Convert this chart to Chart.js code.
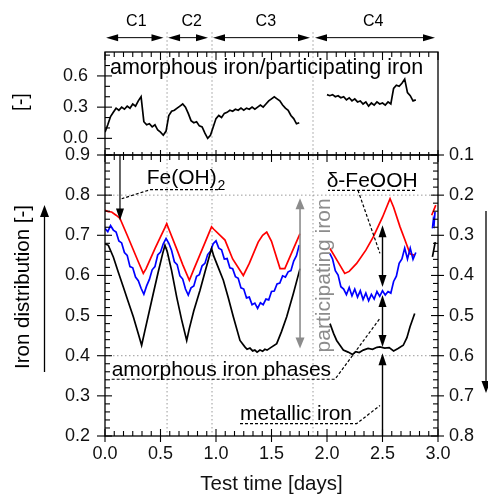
<!DOCTYPE html>
<html><head><meta charset="utf-8">
<script src="https://cdn.jsdelivr.net/npm/chart.js@4.4.1/dist/chart.umd.min.js"></script>
<style>
html,body{margin:0;padding:0;background:#fff;}
#wrap{position:relative;width:488px;height:497px;overflow:hidden;}
canvas{position:absolute;left:0;top:0;}
</style></head><body>
<div id="wrap"><canvas id="main" width="488" height="497"></canvas><canvas id="top" width="488" height="497"></canvas></div>
<script>
// ---------- DATA ----------
const xTicks = [0, 0.5, 1, 1.5, 2, 2.5, 3];
const yTicksLeft = [0.2, 0.3, 0.4, 0.5, 0.6, 0.7, 0.8, 0.9];
const yTicksRight = [0.1, 0.2, 0.3, 0.4, 0.5, 0.6, 0.7, 0.8];
const yTicksTop = [0, 0.3, 0.6];
const refLevels = [0.8, 0.4];
const cycleNames = ['C1', 'C2', 'C3', 'C4'];
const cycleStart = [0.01, 0.568, 0.973, 1.892];
const cycleEnd = [0.527, 0.928, 1.847, 2.973];
const cycleLabelAt = [0.282, 0.781, 1.449, 2.417];
const cycleBounds = [0.559, 0.964, 1.874];

// amorphous iron / participating iron (top panel)
const ratioT = [0,0.025,0.05,0.075,0.1,0.125,0.15,0.175,0.2,0.225,0.25,0.275,0.3,0.325,0.35,0.375,0.4,0.425,0.45,0.475,0.5,0.525,0.55,0.575,0.6,0.625,0.65,0.675,0.7,0.725,0.75,0.775,0.8,0.825,0.85,0.875,0.9,0.925,0.95,0.975,1,1.025,1.05,1.075,1.1,1.125,1.15,1.175,1.2,1.225,1.25,1.275,1.3,1.325,1.35,1.375,1.4,1.425,1.45,1.475,1.5,1.525,1.55,1.575,1.6,1.625,1.65,1.675,1.7,1.725,1.75,
  1.875,
  2,2.025,2.05,2.075,2.1,2.125,2.15,2.175,2.2,2.225,2.25,2.275,2.3,2.325,2.35,2.375,2.4,2.425,2.45,2.475,2.5,2.525,2.55,2.575,2.6,2.625,2.65,2.675,2.7,2.725,2.75,2.775,2.8];
const ratioV = [0.06,0.13,0.21,0.25,0.29,0.27,0.30,0.28,0.31,0.29,0.33,0.31,0.36,0.40,0.16,0.13,0.14,0.11,0.13,0.08,0.06,0.03,0.07,0.22,0.26,0.27,0.29,0.31,0.33,0.30,0.24,0.17,0.15,0.16,0.12,0.11,0.05,0.00,0.03,0.11,0.19,0.22,0.20,0.24,0.25,0.27,0.26,0.28,0.27,0.29,0.27,0.29,0.28,0.30,0.28,0.30,0.32,0.30,0.33,0.36,0.38,0.40,0.38,0.36,0.32,0.29,0.27,0.22,0.19,0.14,0.15,
  null,
  0.42,0.41,0.42,0.40,0.41,0.39,0.40,0.37,0.39,0.36,0.38,0.35,0.36,0.33,0.35,0.31,0.34,0.32,0.35,0.33,0.34,0.32,0.35,0.33,0.48,0.51,0.50,0.53,0.57,0.44,0.41,0.36,0.37];

// red series
const redT = [0,0.03,0.06,0.1,0.135,0.2,0.25,0.3,0.345,0.37,0.45,0.5,0.54,0.556,0.58,0.65,0.7,0.76,0.8,0.85,0.9,0.94,0.96,0.98,1.081,1.15,1.246,1.3,1.38,1.42,1.457,1.5,1.577,1.62,1.7,1.757,
  1.9,
  2.027,2.1,2.16,2.2,2.267,2.35,2.417,2.5,2.568,2.6,2.658,2.7,2.748,2.79,
  2.9,
  2.943,2.98];
const redV = [0.762,0.759,0.758,0.75,0.742,0.700,0.667,0.634,0.605,0.617,0.667,0.696,0.719,0.729,0.712,0.663,0.627,0.588,0.615,0.648,0.681,0.708,0.721,0.715,0.688,0.641,0.600,0.630,0.683,0.700,0.708,0.685,0.617,0.617,0.668,0.704,
  null,
  0.667,0.633,0.605,0.610,0.630,0.663,0.696,0.745,0.791,0.770,0.721,0.690,0.654,0.650,
  null,
  0.750,0.775];

// blue series
const blueT = [0,0.025,0.05,0.075,0.1,0.125,0.15,0.175,0.2,0.225,0.25,0.275,0.3,0.325,0.35,0.375,0.4,0.425,0.45,0.475,0.5,0.525,0.55,0.575,0.6,0.625,0.65,0.675,0.7,0.725,0.75,0.775,0.8,0.825,0.85,0.875,0.9,0.925,0.95,0.975,1,1.025,1.05,1.075,1.1,1.125,1.15,1.175,1.2,1.225,1.25,1.275,1.3,1.325,1.35,1.375,1.4,1.425,1.45,1.475,1.5,1.525,1.55,1.575,1.6,1.625,1.65,1.675,1.7,1.725,1.75,
  1.9,
  2.025,2.05,2.075,2.1,2.125,2.15,2.175,2.2,2.225,2.25,2.275,2.3,2.325,2.35,2.375,2.4,2.425,2.45,2.475,2.5,2.525,2.55,2.575,2.6,2.625,2.65,2.675,2.7,2.725,2.75,2.775,2.8,
  2.9,
  2.95,2.958,2.965,2.973];
const blueV = [0.717,0.709,0.724,0.713,0.708,0.686,0.681,0.657,0.650,0.622,0.619,0.596,0.587,0.568,0.553,0.574,0.590,0.614,0.622,0.651,0.658,0.679,0.692,0.680,0.662,0.634,0.627,0.599,0.591,0.566,0.551,0.569,0.574,0.598,0.602,0.624,0.630,0.652,0.660,0.679,0.686,0.668,0.664,0.641,0.642,0.619,0.617,0.597,0.593,0.569,0.566,0.544,0.546,0.527,0.531,0.518,0.532,0.527,0.541,0.539,0.560,0.561,0.579,0.581,0.599,0.596,0.609,0.612,0.636,0.649,0.676,
  null,
  0.655,0.641,0.612,0.601,0.572,0.566,0.552,0.570,0.549,0.566,0.546,0.562,0.540,0.556,0.537,0.553,0.541,0.560,0.548,0.562,0.551,0.560,0.556,0.585,0.598,0.630,0.641,0.668,0.641,0.668,0.640,0.657,
  null,
  0.717,0.738,0.729,0.758];

// black series
const blackT = [0,0.03,0.075,0.12,0.165,0.21,0.255,0.3,0.33,0.36,0.4,0.435,0.48,0.52,0.54,0.56,0.6,0.646,0.69,0.736,0.76,0.8,0.856,0.9,0.94,0.96,0.98,1.02,1.066,1.11,1.156,1.216,1.26,1.28,1.306,1.33,1.35,1.37,1.396,1.42,1.44,1.46,1.486,1.547,1.59,1.637,1.697,1.757,
  1.9,
  2.027,2.06,2.087,2.12,2.147,2.19,2.23,2.26,2.29,2.327,2.37,2.41,2.45,2.477,2.52,2.56,2.6,2.64,2.687,2.72,2.748,2.79,
  2.9,
  2.95,2.975];
const blackV = [0.679,0.675,0.646,0.608,0.571,0.534,0.497,0.455,0.426,0.463,0.512,0.555,0.609,0.655,0.675,0.660,0.612,0.546,0.490,0.438,0.468,0.512,0.563,0.608,0.648,0.667,0.648,0.620,0.588,0.545,0.497,0.438,0.422,0.416,0.419,0.412,0.414,0.409,0.414,0.411,0.416,0.414,0.419,0.430,0.460,0.497,0.555,0.617,
  null,
  0.480,0.455,0.438,0.425,0.414,0.409,0.403,0.410,0.408,0.414,0.418,0.416,0.421,0.422,0.419,0.420,0.412,0.418,0.426,0.445,0.472,0.505,
  null,
  0.646,0.683];

// ---------- DRAWING ----------
const FONT = "'Liberation Sans', Arial, sans-serif";
Chart.defaults.font.family = FONT;
Chart.defaults.color = '#111';
const pts = (t, v) => t.map((x, i) => ({x: x, y: v[i]}));

function seg(ctx, x1, y1, x2, y2) { ctx.beginPath(); ctx.moveTo(x1, y1); ctx.lineTo(x2, y2); ctx.stroke(); }
function head(ctx, tx, ty, ux, uy, len, hw) {
  ctx.beginPath();
  ctx.moveTo(tx, ty);
  ctx.lineTo(tx - ux * len - uy * hw, ty - uy * len + ux * hw);
  ctx.lineTo(tx - ux * len + uy * hw, ty - uy * len - ux * hw);
  ctx.closePath(); ctx.fill();
}
function vArrow(ctx, x, yFrom, yTo, both, len, hw) {
  const d = yTo > yFrom ? 1 : -1;
  seg(ctx, x, yFrom + (both ? d * len * 0.8 : 0), x, yTo - d * len * 0.8);
  head(ctx, x, yTo, 0, d, len, hw);
  if (both) head(ctx, x, yFrom, 0, -d, len, hw);
}
function hArrow(ctx, y, x1, x2, len, hw) {
  seg(ctx, x1 + len * 0.8, y, x2 - len * 0.8, y);
  head(ctx, x2, y, 1, 0, len, hw);
  head(ctx, x1, y, -1, 0, len, hw);
}
const fmt1 = v => Number(v).toFixed(1);

const mainDecor = {
  id: 'mainDecor',
  beforeDatasetsDraw(chart) {
    const {ctx, chartArea: a, scales: {x, y}} = chart;
    ctx.save();
    ctx.strokeStyle = '#9a9a9a'; ctx.lineWidth = 1; ctx.setLineDash([1.5, 2.5]);
    refLevels.forEach(v => { const py = y.getPixelForValue(v); seg(ctx, a.left, py, a.right, py); });
    cycleBounds.forEach(v => { const px = x.getPixelForValue(v); seg(ctx, px, a.top, px, a.bottom); });
    ctx.restore();
  },
  afterDraw(chart) {
    const {ctx, chartArea: a, scales: {x, y, y2}} = chart;
    const X = v => x.getPixelForValue(v), Y = v => y.getPixelForValue(v);
    ctx.save();
    ctx.strokeStyle = '#000'; ctx.fillStyle = '#000'; ctx.setLineDash([]);
    ctx.lineWidth = 1.3;
    ctx.strokeRect(a.left, a.top, a.right - a.left, a.bottom - a.top);
    ctx.lineWidth = 1.1;
    for (let k = 0; k <= 35; k++) {
      const major = k % 5 === 0;
      const py = y.getPixelForValue(0.2 + k * 0.02);
      seg(ctx, a.left - (major ? 8 : 0), py, a.left + (major ? 7 : 5), py);
      const qy = y2.getPixelForValue(0.1 + k * 0.02);
      seg(ctx, a.right - (major ? 7 : 5), qy, a.right + (major ? 6 : 0), qy);
    }
    for (let k = 0; k <= 36; k++) {
      const major = k % 6 === 0;
      const px = x.getPixelForValue(k / 12);
      seg(ctx, px, a.bottom - (major ? 7 : 5), px, a.bottom + (major ? 6 : 0));
      seg(ctx, px, a.top + (major ? 7 : 5), px, a.top - (major ? 5 : 3));
    }

    // annotations
    ctx.lineWidth = 1.2;
    ctx.textAlign = 'left'; ctx.textBaseline = 'alphabetic';
    // Fe(OH)2
    ctx.font = '21px ' + FONT;
    ctx.fillText('Fe(OH)', X(0.375), Y(0.827));
    const w = ctx.measureText('Fe(OH)').width;
    ctx.font = '14px ' + FONT;
    ctx.fillText('2', X(0.375) + w + 1, Y(0.827) + 6);
    vArrow(ctx, X(0.135), Y(0.9), Y(0.737), false, 12, 4);
    // delta-FeOOH
    ctx.font = '21px ' + FONT;
    ctx.fillText('\u03B4-FeOOH', X(1.997), Y(0.8203));
    // amorphous iron phases / metallic iron
    ctx.fillText('amorphous iron phases', X(0.06), Y(0.3488));
    ctx.fillText('metallic iron', X(1.216), Y(0.2392));
    // dashed leaders
    ctx.setLineDash([3, 2]);
    ctx.beginPath();
    ctx.moveTo(X(1.018), Y(0.8135)); ctx.lineTo(X(0.405), Y(0.8135)); ctx.lineTo(X(0.15), Y(0.791));
    ctx.moveTo(X(2.793), Y(0.812)); ctx.lineTo(X(2.009), Y(0.812));
    ctx.moveTo(X(2.279), Y(0.812)); ctx.lineTo(X(2.477), Y(0.655));
    ctx.moveTo(X(0.06), Y(0.3414)); ctx.lineTo(X(2.072), Y(0.3414)); ctx.lineTo(X(2.477), Y(0.493));
    ctx.moveTo(X(1.216), Y(0.231)); ctx.lineTo(X(2.268), Y(0.231)); ctx.lineTo(X(2.477), Y(0.276));
    ctx.stroke();
    ctx.setLineDash([]);
    // black arrows at 2.5 days
    ctx.lineWidth = 1.4;
    vArrow(ctx, X(2.5), Y(0.725), Y(0.571), true, 12, 4);
    vArrow(ctx, X(2.5), Y(0.551), Y(0.422), true, 12, 4);
    vArrow(ctx, X(2.5), Y(0.2), Y(0.406), false, 12, 4);
    // participating iron (gray)
    ctx.strokeStyle = '#8c8c8c'; ctx.fillStyle = '#8c8c8c'; ctx.lineWidth = 1.6;
    vArrow(ctx, X(1.757), Y(0.792), Y(0.418), true, 11, 4.5);
    ctx.save();
    ctx.translate(X(1.964) + 1, Y(0.60));
    ctx.rotate(-Math.PI / 2);
    ctx.font = '21px ' + FONT; ctx.textAlign = 'center'; ctx.textBaseline = 'middle';
    ctx.fillText('participating iron', 0, 0);
    ctx.restore();

    // left axis title and direction arrows
    ctx.strokeStyle = '#000'; ctx.fillStyle = '#000'; ctx.lineWidth = 1.3;
    ctx.save();
    ctx.translate(23, 287);
    ctx.rotate(-Math.PI / 2);
    ctx.font = '20.5px ' + FONT; ctx.textAlign = 'center'; ctx.textBaseline = 'middle';
    ctx.fillText('Iron distribution [-]', 0, 0);
    ctx.restore();
    vArrow(ctx, 44.5, 372, 205, false, 12, 4.5);
    vArrow(ctx, 486, 211, 393, false, 12, 4.5);
    ctx.restore();
  }
};

const topDecor = {
  id: 'topDecor',
  beforeDatasetsDraw(chart) {
    const {ctx, chartArea: a, scales: {x, y}} = chart;
    ctx.save();
    ctx.strokeStyle = '#9a9a9a'; ctx.lineWidth = 1; ctx.setLineDash([1.5, 2.5]);
    cycleBounds.forEach(v => { const px = x.getPixelForValue(v); seg(ctx, px, y.getPixelForValue(1.02), px, a.bottom); });
    ctx.restore();
  },
  afterDraw(chart) {
    const {ctx, chartArea: a, scales: {x, y}} = chart;
    const X = v => x.getPixelForValue(v), Y = v => y.getPixelForValue(v);
    ctx.save();
    ctx.strokeStyle = '#000'; ctx.fillStyle = '#000'; ctx.setLineDash([]);
    ctx.lineWidth = 1.3;
    ctx.strokeRect(a.left, a.top, a.right - a.left, a.bottom - a.top);
    ctx.lineWidth = 1.1;
    for (let k = -1; k <= 8; k++) {
      const major = k % 3 === 0;
      const py = y.getPixelForValue(k * 0.1);
      seg(ctx, a.left - (major ? 8 : 0), py, a.left + (major ? 7 : 5), py);
    }
    for (let k = 0; k <= 36; k++) {
      const major = k % 6 === 0;
      const px = x.getPixelForValue(k / 12);
      seg(ctx, px, a.top + (major ? 8 : 5), px, a.top);
    }
    // cycle arrows
    ctx.lineWidth = 1;
    ctx.font = '16px ' + FONT; ctx.textAlign = 'center'; ctx.textBaseline = 'alphabetic';
    cycleNames.forEach((n, i) => {
      hArrow(ctx, Y(0.968), X(cycleStart[i]), X(cycleEnd[i]), 12, 3.5);
      ctx.fillText(n, X(cycleLabelAt[i]), Y(1.077));
    });
    // panel text
    ctx.font = '21.5px ' + FONT; ctx.textAlign = 'left';
    ctx.fillText('amorphous iron/participating iron', X(0.045), Y(0.618));
    // y title
    ctx.save();
    ctx.translate(21, 102);
    ctx.rotate(-Math.PI / 2);
    ctx.font = '20px ' + FONT; ctx.textAlign = 'center'; ctx.textBaseline = 'middle';
    ctx.fillText('[-]', 0, 0);
    ctx.restore();
    ctx.restore();
  }
};

const lineDs = (label, data, color) => ({label, data, borderColor: color, backgroundColor: color, borderWidth: 1.7, pointRadius: 0, tension: 0, spanGaps: false});

new Chart(document.getElementById('main'), {
  type: 'line',
  data: {datasets: [
    lineDs('metallic iron', pts(blackT, blackV), '#000000'),
    lineDs('amorphous', pts(blueT, blueV), '#0000ff'),
    lineDs('participating', pts(redT, redV), '#ff0000')
  ]},
  options: {
    responsive: false, animation: false, parsing: true,
    layout: {padding: {top: 155, left: 0, right: 0, bottom: 0}},
    plugins: {legend: {display: false}, tooltip: {enabled: false}},
    scales: {
      x: {type: 'linear', position: 'bottom', min: 0, max: 3,
        grid: {display: false, drawTicks: false}, border: {display: false},
        afterBuildTicks: s => { s.ticks = xTicks.map(v => ({value: v})); },
        afterFit: s => { s.height = 61; },
        ticks: {padding: 7, font: {size: 18}, color: '#111', callback: fmt1, maxRotation: 0},
        title: {display: true, text: 'Test time [days]', font: {size: 20.5}, color: '#111', padding: {top: 0, bottom: 0}}},
      y: {type: 'linear', position: 'left', min: 0.2, max: 0.9,
        grid: {display: false, drawTicks: false}, border: {display: false},
        afterBuildTicks: s => { s.ticks = yTicksLeft.map(v => ({value: v})); },
        afterFit: s => { s.width = 105; },
        ticks: {padding: 15, font: {size: 18}, color: '#111', callback: fmt1}},
      y2: {type: 'linear', position: 'right', min: 0.1, max: 0.8, reverse: true,
        grid: {display: false, drawTicks: false}, border: {display: false},
        afterBuildTicks: s => { s.ticks = yTicksRight.map(v => ({value: v})); },
        afterFit: s => { s.width = 50; },
        ticks: {padding: 11, font: {size: 18}, color: '#111', callback: fmt1}}
    }
  },
  plugins: [mainDecor]
});

new Chart(document.getElementById('top'), {
  type: 'line',
  data: {datasets: [lineDs('ratio', pts(ratioT, ratioV), '#000000')]},
  options: {
    responsive: false, animation: false,
    layout: {padding: {top: 52, left: 0, right: 50, bottom: 342}},
    plugins: {legend: {display: false}, tooltip: {enabled: false}},
    scales: {
      x: {type: 'linear', display: false, min: 0, max: 3},
      y: {type: 'linear', position: 'left', min: -0.16, max: 0.83,
        grid: {display: false, drawTicks: false}, border: {display: false},
        afterBuildTicks: s => { s.ticks = yTicksTop.map(v => ({value: v})); },
        afterFit: s => { s.width = 105; },
        ticks: {padding: 17, font: {size: 18}, color: '#111', callback: fmt1}}
    }
  },
  plugins: [topDecor]
});
</script>
</body></html>
